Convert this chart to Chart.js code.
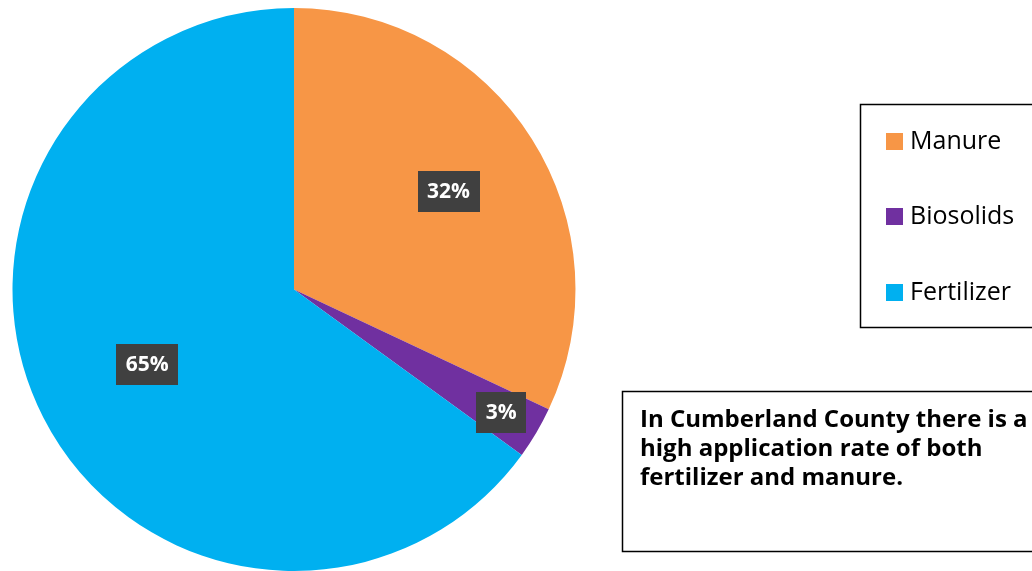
<!DOCTYPE html>
<html><head><meta charset="utf-8">
<script src="https://cdn.jsdelivr.net/npm/chart.js@4/dist/chart.umd.min.js"></script>
<style>html,body{margin:0;padding:0;background:#fff;}#wrap{width:1032px;height:571px;position:relative;}</style>
</head><body><div id="wrap"><canvas id="c" width="1032" height="571"></canvas></div>
<script>
const categories = ["Manure", "Biosolids", "Fertilizer"];
const shares = [32, 3, 65];
const colors = ["#F79646", "#7030A0", "#00B0F0"];
const noteLines = ["In Cumberland County there is a", "high application rate of both", "fertilizer and manure."];

const labelFrac = [0.65, 0.855, 0.585];
const FONT = "'Open Sans', 'DejaVu Sans', sans-serif";

const overlay = {
  id: 'overlay',
  afterDatasetsDraw(chart) {
    const ctx = chart.ctx;
    const meta = chart.getDatasetMeta(0);
    ctx.save();
    ctx.font = "bold 21px " + FONT;
    ctx.textAlign = 'center';
    ctx.textBaseline = 'middle';
    meta.data.forEach((arc, i) => {
      const mid = (arc.startAngle + arc.endAngle) / 2;
      const r = arc.outerRadius * labelFrac[i];
      const x = arc.x + Math.cos(mid) * r;
      const y = arc.y + Math.sin(mid) * r;
      const txt = chart.data.datasets[0].data[i] + '%';
      const w = ctx.measureText(txt).width + 19;
      const h = 41;
      ctx.fillStyle = '#404040';
      ctx.fillRect(Math.round(x - w / 2), Math.round(y - h / 2), Math.round(w), h);
      ctx.fillStyle = '#ffffff';
      ctx.fillText(txt, x, y + 1);
    });
    ctx.restore();
  },
  afterDraw(chart) {
    const ctx = chart.ctx;
    ctx.save();
    ctx.strokeStyle = '#000';
    ctx.lineWidth = 1.5;
    ctx.strokeRect(860.5, 104.5, 200, 223);
    ctx.font = "25px " + FONT;
    ctx.textBaseline = 'middle';
    ctx.textAlign = 'left';
    const ys = [141, 216, 292];
    chart.data.labels.forEach((lab, i) => {
      ctx.fillStyle = chart.data.datasets[0].backgroundColor[i];
      ctx.fillRect(886, ys[i] - 8, 17, 17);
      ctx.fillStyle = '#000';
      ctx.fillText(lab, 910, ys[i] + 1);
    });
    ctx.strokeRect(622.5, 391.5, 450, 160);
    ctx.font = "bold 24px " + FONT;
    ctx.textBaseline = 'alphabetic';
    noteLines.forEach((ln, i) => {
      ctx.fillText(ln, 640, 427 + i * 29);
    });
    ctx.restore();
  }
};

new Chart(document.getElementById('c'), {
  type: 'pie',
  data: {
    labels: categories,
    datasets: [{ data: shares, backgroundColor: colors, borderWidth: 0 }]
  },
  options: {
    responsive: false,
    animation: false,
    layout: { padding: { left: 12, top: 8, right: 456, bottom: 0 } },
    plugins: { legend: { display: false }, tooltip: { enabled: false } }
  },
  plugins: [overlay]
});
</script></body></html>
